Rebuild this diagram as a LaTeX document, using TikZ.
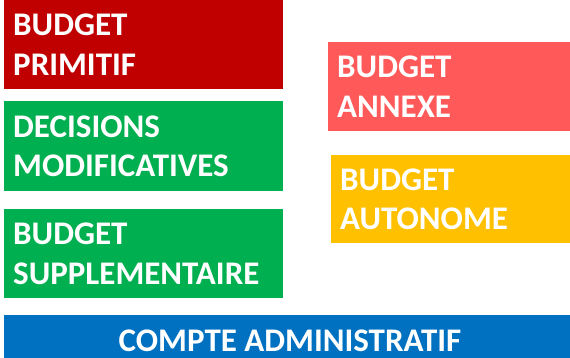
\documentclass[tikz,border=0pt]{standalone}
\usepackage{fontspec}
\setmainfont{Carlito}

\definecolor{budgetRed}{HTML}{C00000}
\definecolor{budgetGreen}{HTML}{00B050}
\definecolor{budgetPink}{HTML}{FF5959}
\definecolor{budgetYellow}{HTML}{FFC000}
\definecolor{budgetBlue}{HTML}{0070C0}

\begin{document}
\begin{tikzpicture} [x = 1pt, y = -1pt,
	box/.style = {anchor = north west, rectangle, text = white, align = left,
		font = \fontsize{33}{39.5}\selectfont\bfseries, inner xsep = 9pt, inner ysep = 0pt}]

	% Define coordinates.

	%frame
	\coordinate (origin) at (0, 0);
	\coordinate (far) at (570, 358);

	%left column
	\coordinate (primitifCorner) at (4, 0);
	\coordinate (decisionsCorner) at (4, 101);
	\coordinate (supplementaireCorner) at (4, 209);

	%right column
	\coordinate (annexeCorner) at (328, 42);
	\coordinate (autonomeCorner) at (331, 155);

	%bottom bar
	\coordinate (compteCorner) at (4, 315);
	\coordinate (compteFar) at (576, 366);
	\coordinate (compteMid) at (290, 340.5);

	\useasboundingbox (origin) rectangle (far);
	\clip (origin) rectangle (far);

% Draw boxes.

	\node [box, fill = budgetRed, text width = 261pt, minimum height = 89pt] (primitif) at (primitifCorner) {BUDGET\\PRIMITIF};
	\node [box, fill = budgetGreen, text width = 261pt, minimum height = 90pt] (decisions) at (decisionsCorner) {DECISIONS\\MODIFICATIVES};
	\node [box, fill = budgetGreen, text width = 261pt, minimum height = 89pt] (supplementaire) at (supplementaireCorner) {BUDGET\\SUPPLEMENTAIRE};

	\node [box, fill = budgetPink, text width = 224pt, minimum height = 89pt] (annexe) at (annexeCorner) {BUDGET\\ANNEXE};
	\node [box, fill = budgetYellow, text width = 221pt, minimum height = 88pt] (autonome) at (autonomeCorner) {BUDGET\\AUTONOME};

% Bottom bar.

	\fill [budgetBlue] (compteCorner) rectangle (compteFar);
	\node [box, anchor = center, inner sep = 0pt] (compte) at (compteMid) {COMPTE ADMINISTRATIF};

	\end{tikzpicture}
\end{document}
